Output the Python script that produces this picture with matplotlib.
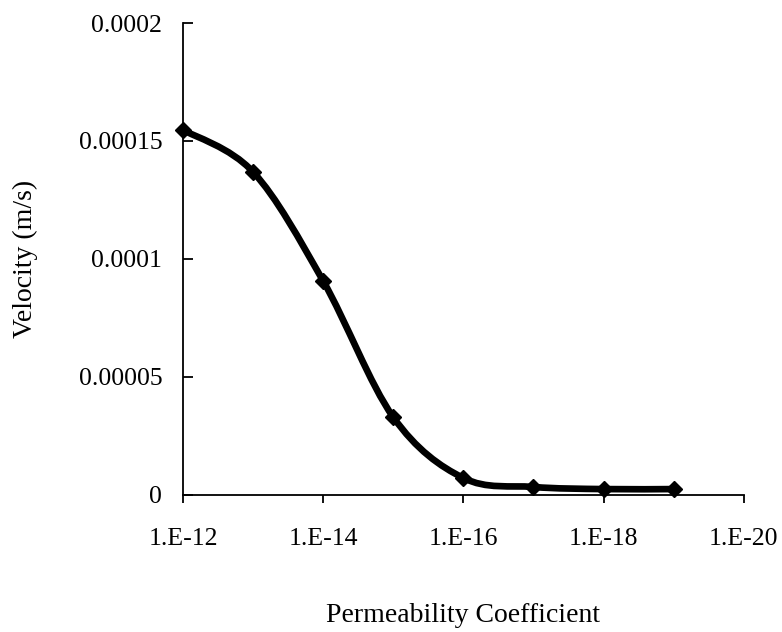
import numpy as np
import matplotlib
matplotlib.use('Agg')
import matplotlib.pyplot as plt
from matplotlib.path import Path
from matplotlib.patches import PathPatch

# Datos
permeability = [1e-12, 1e-13, 1e-14, 1e-15, 1e-16, 1e-17, 1e-18, 1e-19]
velocity = [0.0001547, 0.0001369, 0.0000907, 0.0000330, 0.0000072, 0.0000034, 0.0000025, 0.0000025]

x_ticks = [1e-12, 1e-14, 1e-16, 1e-18, 1e-20]
x_tick_labels = ['1.E-12', '1.E-14', '1.E-16', '1.E-18', '1.E-20']
y_ticks = [0, 0.00005, 0.0001, 0.00015, 0.0002]
y_tick_labels = ['0', '0.00005', '0.0001', '0.00015', '0.0002']

plt.rcParams['font.family'] = ['Liberation Serif', 'DejaVu Serif']

fig = plt.figure(figsize=(7.82, 6.32), dpi=100)
ax = fig.add_axes([0.234, 0.2168, 0.717, 0.7468])

ax.set_xscale('log')
ax.set_xlim(1e-12, 1e-20)
ax.set_ylim(0, 0.0002)

# Linea suavizada (curvas Bezier tipo Excel, en espacio log de x)
lx = np.log10(permeability)
vy = np.array(velocity)
n = len(lx)
verts = [(lx[0], vy[0])]
codes = [Path.MOVETO]
for i in range(n - 1):
    i0 = max(i - 1, 0)
    i3 = min(i + 2, n - 1)
    c1 = (lx[i] + (lx[i + 1] - lx[i0]) / 6, vy[i] + (vy[i + 1] - vy[i0]) / 6)
    c2 = (lx[i + 1] - (lx[i3] - lx[i]) / 6, vy[i + 1] - (vy[i3] - vy[i]) / 6)
    verts += [c1, c2, (lx[i + 1], vy[i + 1])]
    codes += [Path.CURVE4] * 3
verts = [(10 ** vx, vv) for vx, vv in verts]
patch = PathPatch(Path(verts, codes), fill=False, edgecolor='black', lw=4.8,
                  capstyle='round', joinstyle='round', clip_on=False, zorder=3)
ax.add_patch(patch)
ax.plot(permeability, velocity, linestyle='none', marker='D', markersize=8.5,
        color='black', clip_on=False, zorder=4)

# Ejes
ax.spines['top'].set_visible(False)
ax.spines['right'].set_visible(False)
ax.spines['left'].set_linewidth(1.3)
ax.spines['bottom'].set_linewidth(1.3)

ax.set_xticks(x_ticks)
ax.set_xticklabels(x_tick_labels)
ax.xaxis.set_minor_locator(matplotlib.ticker.NullLocator())
ax.set_yticks(y_ticks)
ax.set_yticklabels(y_tick_labels)

ax.tick_params(axis='x', direction='out', length=6, width=1.3, pad=18, labelsize=18.5)
ax.tick_params(axis='y', direction='in', length=7, width=1.3, pad=15, labelsize=18.5)

ax.set_xlabel('Permeability Coefficient', fontsize=20, labelpad=38)
ax.set_ylabel('Velocity (m/s)', fontsize=20, labelpad=29)

plt.savefig('out.png', dpi=100)
